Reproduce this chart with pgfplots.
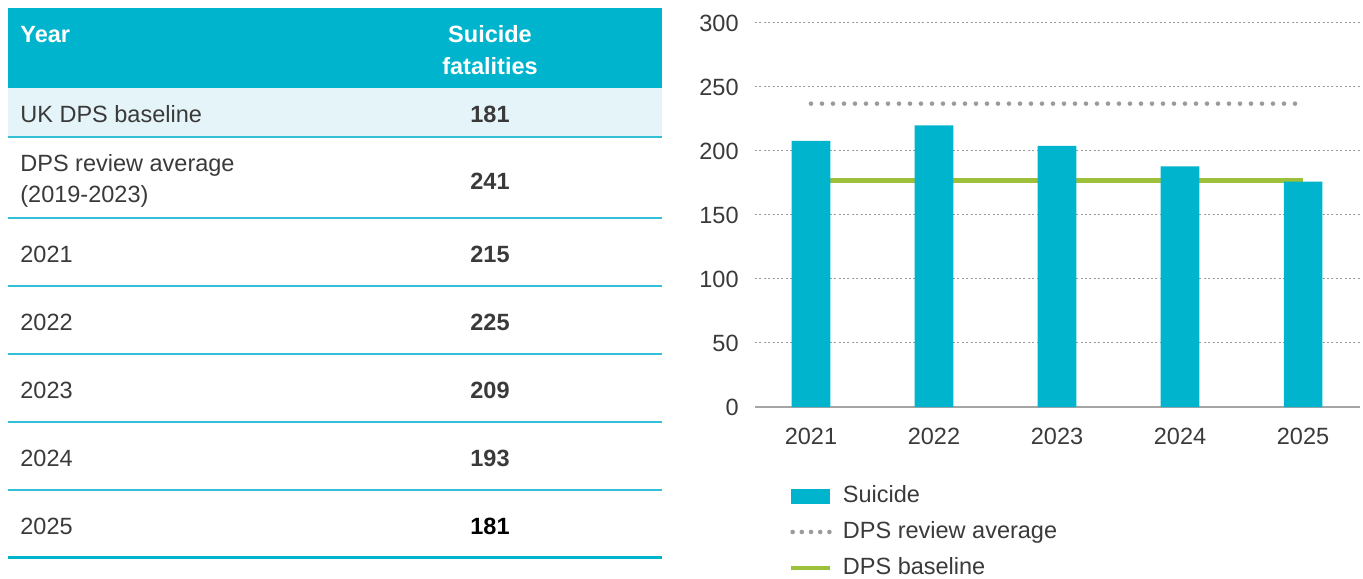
\documentclass[border=0pt]{standalone}
\usepackage{fontspec}
\setmainfont{Liberation Sans}
\usepackage{pgfplots}
\pgfplotsset{compat=1.18}
\definecolor{dpsteal}{HTML}{00B4CE}
\definecolor{rowfill}{HTML}{E5F4F8}
\definecolor{sepline}{HTML}{33C0D6}
\definecolor{basegreen}{HTML}{9DC03B}
\definecolor{dotgray}{HTML}{9B9B9B}
\definecolor{gridgray}{HTML}{9A9A9A}
\definecolor{axisgray}{HTML}{A5A5A5}
\definecolor{textgray}{HTML}{3A3A3A}
\newcommand\chartfont{\fontsize{11.75pt}{14pt}\selectfont}
\pgfplotsset{
  lineleg/.style={legend image code/.code={\draw[##1] (0pt,0pt) -- (19.5pt,0pt);}},
  dotleg/.style={legend image code/.code={\draw[##1, dash pattern=on 0pt off 4.6pt] (1pt,0pt) -- (19.5pt,0pt);}},
  barleg/.style={legend image code/.code={\fill[##1] (0pt,-3.75pt) rectangle (19.5pt,3.75pt);}},
}

\begin{document}
\chartfont
\begin{tikzpicture}
\useasboundingbox (0,0) rectangle (681.5pt,289pt);

% table, in pixel units of the reference
\begin{scope}[x=0.5pt,y=-0.5pt,shift={(0,289pt)}]
  \fill[dpsteal] (8,8) rectangle (662,88);
  \fill[rowfill] (8,88) rectangle (662,137);
  \foreach \y in {137,218,286,354,422,490}
    \draw[sepline, line width=0.75pt] (8,\y) -- (662,\y);
  \draw[dpsteal, line width=1.5pt] (8,557.5) -- (662,557.5);
  \begin{scope}[every node/.style={inner sep=0pt, font=\chartfont, text=textgray}]
    \node[anchor=base west, text=white, font=\chartfont\bfseries] at (20,42.5) {Year};
    \node[anchor=base, text=white, font=\chartfont\bfseries] at (490,42.5) {Suicide};
    \node[anchor=base, text=white, font=\chartfont\bfseries] at (490,75) {fatalities};
    \node[anchor=base west] at (20,122.5) {UK DPS baseline};
    \node[anchor=base, font=\chartfont\bfseries] at (490,122.5) {181};
    \node[anchor=base west] at (20,171.5) {DPS review average};
    \node[anchor=base west] at (20,203) {(2019-2023)};
    \node[anchor=base, font=\chartfont\bfseries] at (490,189.5) {241};
    \node[anchor=base west] at (20,262.5) {2021};
    \node[anchor=base, font=\chartfont\bfseries] at (490,262.5) {215};
    \node[anchor=base west] at (20,330.5) {2022};
    \node[anchor=base, font=\chartfont\bfseries] at (490,330.5) {225};
    \node[anchor=base west] at (20,398.5) {2023};
    \node[anchor=base, font=\chartfont\bfseries] at (490,398.5) {209};
    \node[anchor=base west] at (20,466.5) {2024};
    \node[anchor=base, font=\chartfont\bfseries] at (490,466.5) {193};
    \node[anchor=base west] at (20,534.5) {2025};
    \node[anchor=base, font=\chartfont\bfseries, text=black] at (490,534.5) {181};
  \end{scope}
\end{scope}

\begin{axis}[
  at={(377.5pt,85.5pt)}, anchor=south west,
  scale only axis, width=302.5pt, height=192pt,
  xmin=-0.455, xmax=4.463, ymin=0, ymax=300,
  xtick={0,...,4}, xticklabels={2021,2022,2023,2024,2025},
  ytick={0,50,...,300},
  axis lines=left, axis line style={-},
  y axis line style={draw=none},
  x axis line style={draw=axisgray, line width=1.3pt},
  major tick length=0pt,
  ymajorgrids, grid style={gridgray, line width=0.5pt, dash pattern=on 1pt off 1.2pt},
  tick label style={font=\chartfont, text=textgray},
  yticklabel style={anchor=east, inner sep=0pt, xshift=-8pt},
  xticklabel style={anchor=base, inner sep=0pt, yshift=-18.5pt},
  /pgf/number format/assume math mode=true,
  legend style={at={(0.0546,-0.204)}, anchor=north west, draw=none, fill=none,
    inner sep=0pt, row sep=7.7pt, column sep=5.5pt, font=\chartfont, text=textgray,
    nodes={inner sep=0pt}},
  legend cell align=left, reverse legend,
]
\addplot[basegreen, line width=2.2pt, lineleg]
  coordinates {(0,177) (4,177)};
\addplot[dotgray, line width=2.3pt, line cap=round, dash pattern=on 0pt off 5.5pt, dotleg]
  coordinates {(0,237) (4,237)};
\addplot[ybar, bar width=19.3pt, fill=dpsteal, draw=none, barleg]
  coordinates {(0,208) (1,220) (2,204) (3,188) (4,176)};
\legend{\vphantom{Dg}DPS baseline, \vphantom{Dg}DPS review average, \vphantom{Dg}Suicide}
\end{axis}
\end{tikzpicture}
\end{document}
